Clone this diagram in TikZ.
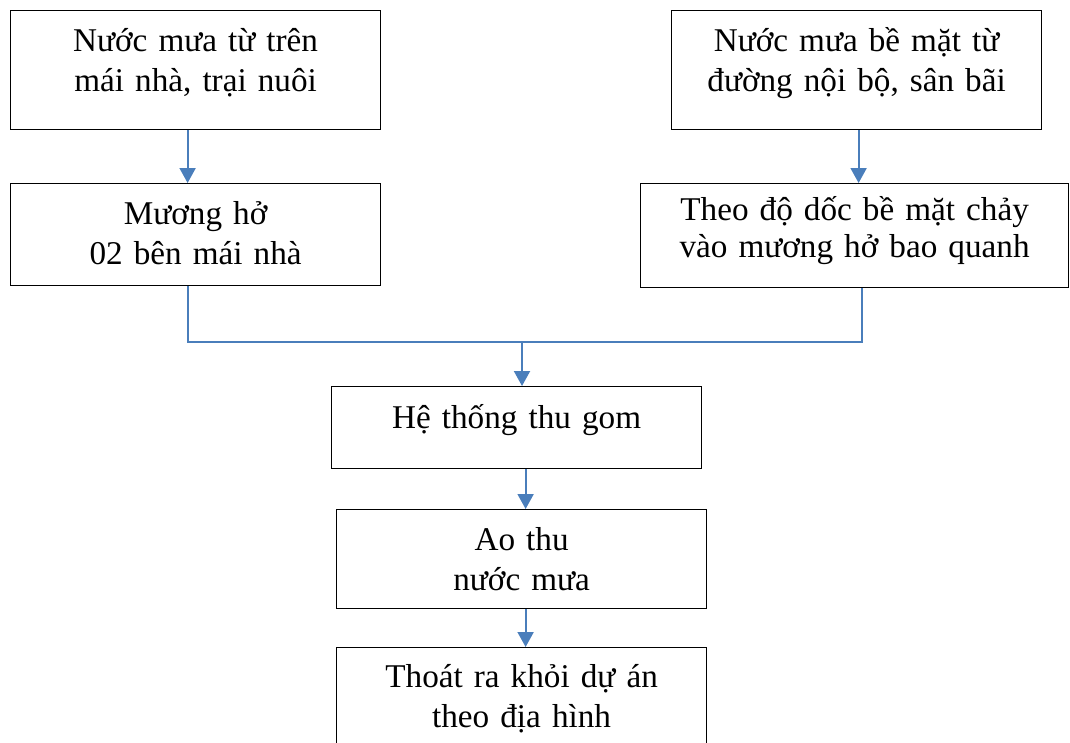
\documentclass[tikz,border=0pt]{standalone}
\usepackage{fontspec}
\setmainfont{Liberation Serif}
\usetikzlibrary{arrows.meta}
\definecolor{flowblue}{RGB}{74,126,187}

\tikzset{
  box/.style={draw=black, line width=1.2pt, inner sep=0pt, anchor=north west,
    text width=#1, align=center,
    font=\fontsize{33.2}{40}\selectfont, text height=41pt},
  flow/.style={draw=flowblue, line width=2pt, -{Triangle[width=16pt,length=15pt]}},
  link/.style={draw=flowblue, line width=2pt}
}

\begin{document}
\begin{tikzpicture}[x=1pt,y=-1pt]
\clip (0,0) rectangle (1070,742);
\node[box=370pt, text depth=78pt] (roof) at (10,10) {Nước mưa từ trên\\mái nhà, trại nuôi};
\node[box=370pt, text depth=78pt] (yard) at (671,10) {Nước mưa bề mặt từ\\đường nội bộ, sân bãi};
\node[box=370pt, text depth=61pt] (ditch) at (10,183) {Mương hở\\02 bên mái nhà};
\node[box=428pt, text height=37pt, text depth=67pt,
  font=\fontsize{33.2}{37}\selectfont] (slope) at (640,183) {Theo độ dốc bề mặt chảy\\vào mương hở bao quanh};
\node[box=370pt, text height=42pt, text depth=40pt] (collect) at (331,386) {Hệ thống thu gom};
\node[box=370pt, text depth=58pt] (pond) at (336,509) {Ao thu\\nước mưa};
\node[box=370pt, text height=40pt, text depth=80pt] (outlet) at (336,647) {Thoát ra khỏi dự án\\theo địa hình};
\coordinate (join) at (522,342);

% connectors
\draw[flow] ([xshift=-8pt]roof.south) -- ([xshift=-8pt]ditch.north);
\draw[flow] ([xshift=2pt]yard.south) -- ([xshift=2pt]yard.south |- slope.north);
\draw[link] ([xshift=-8pt]ditch.south) -- ([xshift=-8pt]ditch.south |- join)
  -- ([xshift=7pt]slope.south |- join) -- ([xshift=7pt]slope.south);
\draw[flow] (join) -- (join |- collect.north);
\draw[flow] ([xshift=9pt]collect.south) -- ([xshift=9pt]collect.south |- pond.north);
\draw[flow] ([xshift=4pt]pond.south) -- ([xshift=4pt]outlet.north);
\end{tikzpicture}
\end{document}
